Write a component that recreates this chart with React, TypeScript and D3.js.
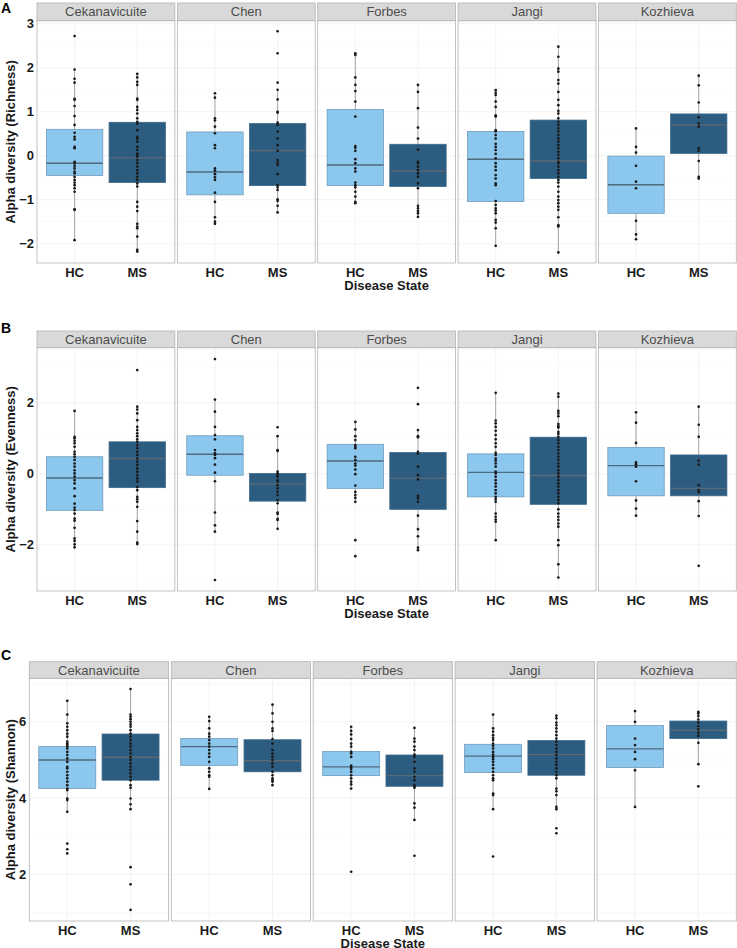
import React from 'react';
import * as d3 from 'd3';

const studies = ['Cekanavicuite', 'Chen', 'Forbes', 'Jangi', 'Kozhieva'];
const groups = ['HC', 'MS'];

// ---------- Richness (A) ----------
// box stats per study: [lower whisker, q1, median, q3, upper whisker]
const richnessBoxHC = [
  [-1.92, -0.45, -0.17, 0.60, 1.96],
  [-1.55, -0.89, -0.37, 0.54, 1.42],
  [-1.08, -0.68, -0.21, 1.05, 2.33],
  [-2.05, -1.04, -0.08, 0.55, 1.49],
  [-1.90, -1.31, -0.66, -0.01, 0.62],
];
const richnessBoxMS = [
  [-2.18, -0.61, -0.05, 0.76, 1.86],
  [-1.29, -0.68, 0.12, 0.73, 1.50],
  [-1.39, -0.70, -0.35, 0.26, 1.61],
  [-2.20, -0.52, -0.12, 0.81, 2.48],
  [-0.52, 0.05, 0.70, 0.95, 1.82],
];
const richnessHC = [
  [2.72, 1.96, 1.75, 1.66, 1.29, 1.27, 1.13, 0.90, 0.70, 0.52, 0.43, 0.37, 0.20, 0.17, -0.14, -0.17, -0.23, -0.29, -0.36, -0.40, -0.48, -0.55, -0.61, -0.67, -0.74, -0.82, -1.22, -1.23, -1.92],
  [1.42, 1.32, 0.85, 0.80, 0.66, 0.51, 0.24, 0.17, -0.29, -0.34, -0.42, -0.49, -0.55, -0.84, -1.05, -1.40, -1.50, -1.55],
  [2.33, 2.29, 1.78, 1.61, 1.47, 1.23, 0.89, 0.22, 0.18, 0.11, -0.08, -0.17, -0.29, -0.36, -0.61, -0.67, -0.72, -0.82, -0.93, -1.05, -1.08],
  [1.49, 1.43, 1.38, 1.23, 1.11, 0.92, 0.89, 0.58, 0.55, 0.47, 0.39, 0.27, 0.20, 0.13, 0.04, -0.06, -0.17, -0.25, -0.33, -0.44, -0.52, -0.63, -0.67, -1.03, -1.12, -1.20, -1.25, -1.31, -1.46, -1.52, -1.65, -2.05],
  [0.62, 0.20, 0.07, -0.23, -0.59, -0.74, -1.48, -1.79, -1.90],
];
const richnessMS = [
  [1.86, 1.78, 1.68, 1.61, 1.30, 1.27, 1.11, 1.04, 0.96, 0.85, 0.77, 0.73, 0.58, 0.43, 0.39, 0.32, 0.20, 0.13, 0.05, 0.02, -0.02, -0.10, -0.17, -0.25, -0.33, -0.40, -0.48, -0.55, -0.63, -0.70, -1.05, -1.16, -1.26, -1.55, -1.61, -1.65, -1.84, -2.14, -2.18],
  [2.83, 2.33, 1.66, 1.50, 1.28, 1.00, 0.98, 0.75, 0.70, 0.55, 0.39, 0.24, 0.11, -0.10, -0.16, -0.21, -0.42, -0.67, -0.72, -0.78, -0.99, -1.03, -1.14, -1.29],
  [1.61, 1.45, 1.08, 0.64, 0.39, 0.14, -0.14, -0.17, -0.25, -0.33, -0.40, -0.48, -0.63, -0.74, -1.14, -1.20, -1.26, -1.31, -1.39],
  [2.48, 2.25, 1.98, 1.91, 1.72, 1.64, 1.45, 1.27, 1.15, 1.02, 0.96, 0.85, 0.77, 0.70, 0.62, 0.55, 0.47, 0.39, 0.32, 0.24, 0.17, 0.09, 0.02, -0.06, -0.14, -0.17, -0.25, -0.33, -0.40, -0.48, -0.55, -0.61, -0.70, -0.82, -0.93, -1.01, -1.08, -1.16, -1.23, -1.40, -1.58, -1.61, -2.20],
  [1.82, 1.60, 1.21, 0.87, 0.73, 0.66, 0.17, 0.11, -0.12, -0.48, -0.52],
];
const richnessTicks = [-2, -1, 0, 1, 2, 3];
const richnessDomain = [-2.44, 3.07];

// ---------- Evenness (B) ----------
const evennessBoxHC = [
  [-2.07, -1.03, -0.12, 0.48, 1.77],
  [-1.63, -0.04, 0.55, 1.07, 2.09],
  [-0.79, -0.41, 0.36, 0.83, 1.46],
  [-1.87, -0.65, 0.04, 0.56, 2.28],
  [-1.18, -0.62, 0.23, 0.74, 1.73],
];
const evennessBoxMS = [
  [-1.98, -0.39, 0.43, 0.90, 1.89],
  [-1.55, -0.77, -0.29, 0.01, 1.06],
  [-2.15, -1.00, -0.13, 0.60, 1.23],
  [-2.92, -0.86, -0.05, 1.03, 2.26],
  [-1.19, -0.62, -0.41, 0.53, 1.89],
];
const evennessHC = [
  [1.77, 1.04, 1.00, 0.93, 0.86, 0.76, 0.62, 0.55, 0.48, 0.39, 0.29, 0.20, 0.10, 0.01, -0.08, -0.18, -0.27, -0.41, -0.63, -0.84, -0.95, -1.02, -1.12, -1.26, -1.32, -1.52, -1.82, -1.89, -1.99, -2.07],
  [3.23, 2.09, 1.75, 1.32, 1.09, 0.97, 0.67, 0.58, 0.53, 0.44, 0.26, 0.03, -0.21, -1.09, -1.45, -1.63, -2.99],
  [1.46, 1.25, 1.06, 0.95, 0.81, 0.76, 0.72, 0.48, 0.39, 0.29, 0.23, 0.12, -0.01, -0.33, -0.51, -0.60, -0.68, -0.79, -1.87, -2.32],
  [2.28, 1.50, 1.42, 1.32, 1.21, 1.09, 0.97, 0.86, 0.76, 0.59, 0.53, 0.43, 0.37, 0.29, 0.20, 0.06, 0.01, -0.08, -0.18, -0.27, -0.36, -0.46, -0.55, -0.65, -0.72, -0.79, -1.12, -1.21, -1.29, -1.35, -1.87],
  [1.73, 1.44, 0.87, 0.32, 0.27, 0.20, -0.21, -0.75, -0.98, -1.18],
];
const evennessMS = [
  [2.92, 1.89, 1.81, 1.70, 1.51, 1.32, 1.23, 1.14, 1.06, 0.97, 0.90, 0.81, 0.72, 0.62, 0.53, 0.43, 0.34, 0.25, 0.15, 0.06, -0.04, -0.13, -0.22, -0.37, -0.46, -0.65, -0.72, -0.79, -0.93, -1.33, -1.63, -1.94, -1.98],
  [1.31, 1.06, 0.67, 0.64, 0.06, 0.01, -0.04, -0.08, -0.18, -0.22, -0.32, -0.41, -0.51, -0.60, -0.74, -0.83, -1.09, -1.13, -1.27, -1.30, -1.55],
  [2.42, 1.96, 1.23, 1.06, 1.03, 0.62, 0.57, 0.20, -0.04, -0.16, -0.62, -0.69, -0.79, -1.18, -1.56, -1.76, -2.08, -2.15],
  [2.26, 2.17, 1.77, 1.70, 1.62, 1.40, 1.34, 1.30, 1.18, 1.12, 1.04, 0.95, 0.86, 0.76, 0.67, 0.57, 0.48, 0.39, 0.29, 0.20, 0.10, 0.01, -0.08, -0.18, -0.27, -0.36, -0.46, -0.55, -0.65, -0.74, -0.83, -1.00, -1.12, -1.21, -1.30, -1.40, -1.49, -1.87, -2.01, -2.55, -2.92],
  [1.89, 1.38, 1.04, 0.37, 0.26, -0.32, -0.46, -0.52, -0.77, -1.19, -2.59],
];
const evennessTicks = [-2, 0, 2];
const evennessDomain = [-3.30, 3.55];

// ---------- Shannon (C) ----------
const shannonBoxHC = [
  [3.64, 4.25, 5.00, 5.35, 6.55],
  [4.24, 4.86, 5.35, 5.56, 6.13],
  [4.25, 4.59, 4.82, 5.22, 5.87],
  [3.71, 4.67, 5.10, 5.41, 6.19],
  [3.77, 4.80, 5.29, 5.90, 6.28],
];
const shannonBoxMS = [
  [3.71, 4.47, 5.07, 5.68, 6.86],
  [4.34, 4.69, 4.98, 5.53, 6.45],
  [3.43, 4.31, 4.59, 5.13, 5.84],
  [3.71, 4.60, 5.14, 5.51, 6.16],
  [4.89, 5.56, 5.78, 6.02, 6.26],
];
const shannonHC = [
  [6.55, 6.19, 5.96, 5.87, 5.78, 5.69, 5.61, 5.48, 5.43, 5.39, 5.35, 5.30, 5.21, 5.13, 5.04, 4.95, 4.82, 4.78, 4.69, 4.60, 4.52, 4.43, 4.34, 4.25, 4.21, 3.99, 3.95, 3.64, 2.81, 2.66, 2.55],
  [6.13, 6.02, 5.83, 5.69, 5.61, 5.52, 5.43, 5.35, 5.26, 5.17, 5.08, 4.95, 4.78, 4.69, 4.60, 4.56, 4.24],
  [5.87, 5.76, 5.67, 5.55, 5.43, 5.35, 5.21, 5.17, 5.08, 4.85, 4.80, 4.76, 4.69, 4.60, 4.52, 4.43, 4.36, 4.25, 2.07],
  [6.19, 5.83, 5.74, 5.65, 5.58, 5.52, 5.43, 5.37, 5.30, 5.21, 5.14, 5.08, 5.02, 4.95, 4.87, 4.78, 4.69, 4.60, 4.52, 4.47, 4.12, 4.08, 3.71, 2.47],
  [6.28, 6.00, 5.56, 5.39, 5.21, 5.02, 4.73, 3.77],
];
const shannonMS = [
  [6.86, 6.19, 6.13, 6.07, 6.00, 5.93, 5.87, 5.78, 5.69, 5.61, 5.52, 5.43, 5.35, 5.26, 5.17, 5.08, 5.00, 4.91, 4.82, 4.74, 4.65, 4.56, 4.47, 4.34, 4.27, 3.99, 3.84, 3.71, 2.19, 1.74, 1.07],
  [6.45, 6.22, 6.00, 5.83, 5.76, 5.55, 5.43, 5.26, 5.17, 5.08, 5.00, 4.91, 4.82, 4.69, 4.60, 4.52, 4.47, 4.43, 4.34],
  [5.84, 5.56, 5.48, 5.35, 5.26, 5.14, 5.08, 4.95, 4.78, 4.69, 4.56, 4.47, 4.34, 4.30, 4.27, 3.86, 3.75, 3.43, 2.49],
  [6.16, 6.09, 5.98, 5.91, 5.83, 5.74, 5.65, 5.56, 5.48, 5.39, 5.30, 5.21, 5.13, 5.04, 4.95, 4.87, 4.78, 4.69, 4.60, 4.52, 4.25, 4.18, 4.08, 3.77, 3.71, 3.21, 3.08],
  [6.26, 6.22, 6.15, 6.06, 5.98, 5.89, 5.80, 5.71, 5.63, 5.45, 4.89, 4.31],
];
const shannonTicks = [2, 4, 6];
const shannonDomain = [0.78, 7.14];

const HC_FILL = '#8CC7EE';
const MS_FILL = '#2C5D81';
const FONT = '"Liberation Sans", Arial, Helvetica, sans-serif';

type Row = {
  tag: string;
  title: string;
  boxHC: number[][];
  boxMS: number[][];
  ptsHC: number[][];
  ptsMS: number[][];
  ticks: number[];
  domain: number[];
  left: number;
  right: number;
  gap: number;
  stripTop: number;
  stripBottom: number;
  panelBottom: number;
  tagY: number;
};

const rows: Row[] = [
  {
    tag: 'A', title: 'Alpha diversity (Richness)',
    boxHC: richnessBoxHC, boxMS: richnessBoxMS, ptsHC: richnessHC, ptsMS: richnessMS,
    ticks: richnessTicks, domain: richnessDomain,
    left: 37, right: 736.3, gap: 2.5, stripTop: 3, stripBottom: 20.7, panelBottom: 263, tagY: 13,
  },
  {
    tag: 'B', title: 'Alpha diversity (Evenness)',
    boxHC: evennessBoxHC, boxMS: evennessBoxMS, ptsHC: evennessHC, ptsMS: evennessMS,
    ticks: evennessTicks, domain: evennessDomain,
    left: 37, right: 736.3, gap: 2.5, stripTop: 331, stripBottom: 347.7, panelBottom: 591, tagY: 333,
  },
  {
    tag: 'C', title: 'Alpha diversity (Shannon)',
    boxHC: shannonBoxHC, boxMS: shannonBoxMS, ptsHC: shannonHC, ptsMS: shannonMS,
    ticks: shannonTicks, domain: shannonDomain,
    left: 29.3, right: 736.3, gap: 2.7, stripTop: 661.7, stripBottom: 678.3, panelBottom: 921, tagY: 660,
  },
];

function RowChart({ row }: { row: Row }) {
  const W = (row.right - row.left - row.gap * (studies.length - 1)) / studies.length;
  const y = d3.scaleLinear().domain(row.domain).range([row.panelBottom, row.stripBottom]);
  const step = row.ticks[1] - row.ticks[0];
  const minor = d3.range(row.ticks[0] - step / 2, row.ticks[row.ticks.length - 1] + step, step)
    .filter((v) => v > row.domain[0] && v < row.domain[1]);
  const plotH = row.panelBottom - row.stripBottom;
  const midY = (row.stripBottom + row.panelBottom) / 2;
  const fmt = (v: number) => (v < 0 ? '\u2212' + Math.abs(v) : String(v));

  return (
    <g>
      <text x={1} y={row.tagY} fontFamily={FONT} fontWeight="bold" fontSize={14} fill="#000">{row.tag}</text>
      <text
        transform={`translate(15,${midY}) rotate(-90)`}
        textAnchor="middle" fontFamily={FONT} fontWeight="bold" fontSize={13} fill="#1a1a1a"
      >{row.title}</text>
      {row.ticks.map((t) => (
        <text key={t} x={row.left - 3} y={y(t)} dy="0.35em" textAnchor="end"
          fontFamily={FONT} fontWeight="bold" fontSize={13} fill="#1a1a1a">{fmt(t)}</text>
      ))}
      {studies.map((s, i) => {
        const x0 = row.left + i * (W + row.gap);
        const x = d3.scalePoint<string>().domain(groups).range([x0, x0 + W]).padding(0.6);
        const bw = x.step() * 0.9;
        const boxes = [row.boxHC[i], row.boxMS[i]];
        const pts = [row.ptsHC[i], row.ptsMS[i]];
        return (
          <g key={s}>
            <rect x={x0} y={row.stripBottom} width={W} height={plotH} fill="#fff" />
            {minor.map((m) => (
              <line key={'mi' + m} x1={x0} x2={x0 + W} y1={y(m)} y2={y(m)} stroke="#F4F4F4" strokeWidth={0.5} />
            ))}
            {row.ticks.map((t) => (
              <line key={'ma' + t} x1={x0} x2={x0 + W} y1={y(t)} y2={y(t)} stroke="#EBEBEB" strokeWidth={0.6} />
            ))}
            {groups.map((g) => (
              <line key={'vg' + g} x1={x(g)!} x2={x(g)!} y1={row.stripBottom} y2={row.panelBottom} stroke="#EBEBEB" strokeWidth={0.6} />
            ))}
            {groups.map((g, gi) => {
              const [lo, q1, med, q3, hi] = boxes[gi];
              const cx = x(g)!;
              const fill = gi === 0 ? HC_FILL : MS_FILL;
              const stroke = gi === 0 ? '#6F9BBB' : '#3D6A8C';
              const medColor = gi === 0 ? '#4E6A7E' : '#5C6A74';
              return (
                <g key={g}>
                  <line x1={cx} x2={cx} y1={y(hi)} y2={y(q3)} stroke="#6E6E6E" strokeWidth={0.6} />
                  <line x1={cx} x2={cx} y1={y(q1)} y2={y(lo)} stroke="#6E6E6E" strokeWidth={0.6} />
                  <rect x={cx - bw / 2} y={y(q3)} width={bw} height={y(q1) - y(q3)} fill={fill} stroke={stroke} strokeWidth={0.8} />
                  <line x1={cx - bw / 2} x2={cx + bw / 2} y1={y(med)} y2={y(med)} stroke={medColor} strokeWidth={1.4} />
                  {pts[gi].map((v, k) => (
                    <circle key={k} cx={cx} cy={y(v)} r={1.35} fill="#1a1a1a" />
                  ))}
                </g>
              );
            })}
            <rect x={x0} y={row.stripBottom} width={W} height={plotH} fill="none" stroke="#B3B3B3" strokeWidth={0.8} />
            <rect x={x0} y={row.stripTop} width={W} height={row.stripBottom - row.stripTop} fill="#D9D9D9" stroke="#B3B3B3" strokeWidth={0.8} />
            <text x={x0 + W / 2} y={(row.stripTop + row.stripBottom) / 2} dy="0.35em" textAnchor="middle"
              fontFamily={FONT} fontSize={13} fill="#4D4D4D">{s}</text>
            {groups.map((g) => (
              <text key={'xl' + g} x={x(g)!} y={row.panelBottom + 13.5} textAnchor="middle"
                fontFamily={FONT} fontWeight="bold" fontSize={13} fill="#1a1a1a">{g}</text>
            ))}
            {i === 2 && (
              <text x={x0 + W / 2} y={row.panelBottom + 26.5} textAnchor="middle"
                fontFamily={FONT} fontWeight="bold" fontSize={13} fill="#1a1a1a">Disease State</text>
            )}
          </g>
        );
      })}
    </g>
  );
}

export default function App() {
  return (
    <svg width={737} height={948} style={{ position: 'absolute', left: 0, top: 0, background: '#fff' }}>
      <rect x={0} y={0} width={737} height={948} fill="#fff" />
      {rows.map((r) => (
        <RowChart key={r.tag} row={r} />
      ))}
    </svg>
  );
}
